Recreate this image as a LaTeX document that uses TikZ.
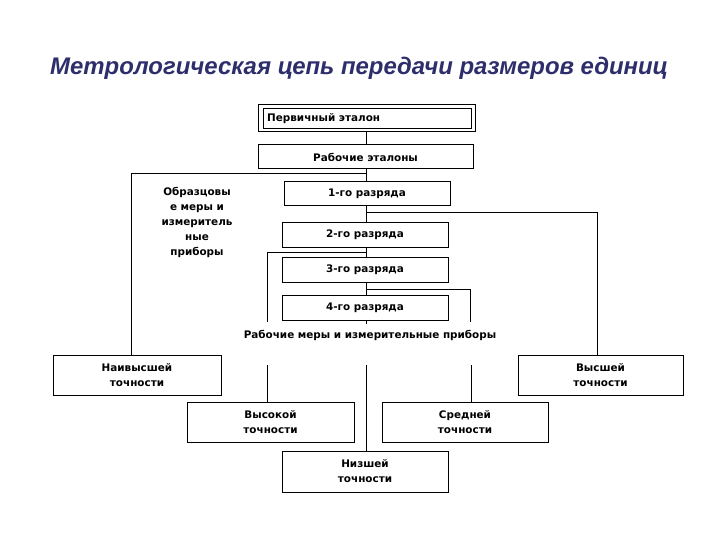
\documentclass[tikz,border=0pt]{standalone}
\usepackage{fontspec}
\setmainfont{DejaVu Sans}
\newfontfamily\titlefam{Liberation Sans}
\newfontfamily\boxfam{DejaVu Sans}
\definecolor{titleblue}{RGB}{46,46,108}
\begin{document}
\begin{tikzpicture}[x=1pt,y=-1pt,
  frame/.style={draw=black,line width=1pt,fill=white,inner sep=0pt,minimum width=166,minimum height=24},
  txt/.style={font=\boxfam\bfseries\fontsize{10.4}{15}\selectfont,inner sep=0pt,align=center},
  boxt/.style={frame,font=\boxfam\bfseries\fontsize{10.4}{15}\selectfont,align=center},
  link/.style={draw=black,line width=1pt}]
\useasboundingbox[fill=white] (0,0) rectangle (720,540);
% title
\node[anchor=base west,inner sep=0pt,text=titleblue] (title) at (50,75)
  {\resizebox{618pt}{\height}{\titlefam\bfseries\itshape\fontsize{24}{28}\selectfont Метрологическая цепь передачи размеров единиц}};
% primary standard
\node[frame,minimum width=217,minimum height=27] (prim) at (366.5,118.5) {};
\node[frame,minimum width=208,minimum height=20,anchor=north west] (primin) at (263,108) {};
\node[txt,anchor=west] (primtxt) at (267,118.5) {Первичный эталон};
% chain
\node[boxt,minimum width=215] (rab) at (365.5,157) {Рабочие эталоны};
\node[boxt] (r1) at (367,194) {1-го разряда};
\node[boxt] (r2) at (365,235) {2-го разряда};
\node[boxt,minimum height=25] (r3) at (365,269.5) {3-го разряда};
\node[boxt,minimum height=25] (r4) at (365,307.5) {4-го разряда};
\node[txt,text depth=0pt] (obr) at (197,221) {Образцовы\\е меры и\\измеритель\\ные\\приборы};
\node[txt] (rmip) at (370,335) {Рабочие меры и измерительные приборы};
% bottom boxes
\node[boxt,minimum width=168,minimum height=40] (naiv) at (137,375) {Наивысшей\\точности};
\node[boxt,minimum width=165,minimum height=40] (vysh) at (600.5,375) {Высшей\\точности};
\node[boxt,minimum width=167,minimum height=40] (vysok) at (270.5,422) {Высокой\\точности};
\node[boxt,minimum width=166,minimum height=40] (sred) at (465,422) {Средней\\точности};
\node[boxt,minimum width=166,minimum height=41] (nizh) at (365,471.5) {Низшей\\точности};
% coordinates
\coordinate (tr) at (366,0);
\coordinate (jL) at (131,174);
\coordinate (jR) at (597,213);
\coordinate (j2) at (267,252);
\coordinate (j3) at (470,289);
\coordinate (e2) at (267,322);
\coordinate (e3) at (470,322);
\coordinate (e4) at (366,324);
\coordinate (s1) at (267,365);
\coordinate (s2) at (366,365);
\coordinate (s3) at (471,365);
% connectors
\draw[link] (tr |- prim.south) -- (tr |- rab.north);
\draw[link] (tr |- rab.south) -- (tr |- r1.north);
\draw[link] (tr |- jL) -- (jL) -- (jL |- naiv.north);
\draw[link] (tr |- r1.south) -- (tr |- r2.north);
\draw[link] (tr |- jR) -- (jR) -- (jR |- vysh.north);
\draw[link] (tr |- r2.south) -- (tr |- r3.north);
\draw[link] (tr |- j2) -- (j2) -- (e2);
\draw[link] (tr |- r3.south) -- (tr |- r4.north);
\draw[link] (tr |- j3) -- (j3) -- (e3);
\draw[link] (tr |- r4.south) -- (e4);
\draw[link] (s1) -- (s1 |- vysok.north);
\draw[link] (s2) -- (s2 |- nizh.north);
\draw[link] (s3) -- (s3 |- sred.north);
\end{tikzpicture}
\end{document}
